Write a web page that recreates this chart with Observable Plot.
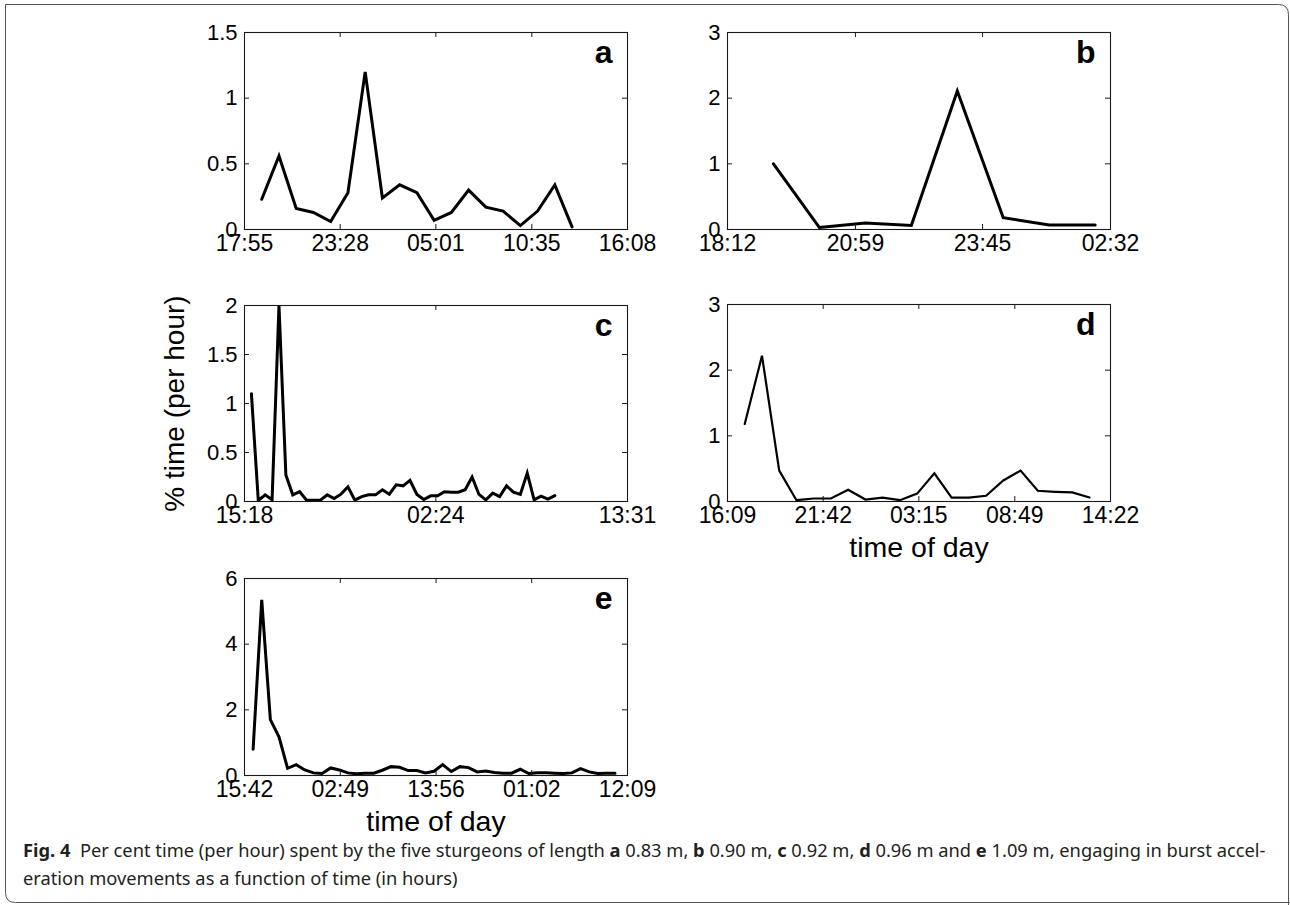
<!DOCTYPE html>
<html><head><meta charset="utf-8">
<script src="https://cdn.jsdelivr.net/npm/d3@7"></script>
<script src="https://cdn.jsdelivr.net/npm/@observablehq/plot@0.6"></script>
<style>
html,body{margin:0;padding:0;background:#fff;}
#fig{position:relative;width:1290px;height:905px;overflow:hidden;background:#fff;}
.panel{position:absolute;}
.panel svg{overflow:visible;display:block;}
#caption{position:absolute;left:23px;top:836px;font-family:"Noto Sans",sans-serif;font-size:18.3px;color:#231f20;line-height:28px;white-space:nowrap;}
#border{position:absolute;left:0;top:0;}
</style></head><body>
<div id="fig">
<svg id="border" width="1290" height="905"><path d="M5.5,4.5 H1278.5 Q1288.5,4.5 1288.5,14.5 V905 M5.5,4.5 V892.5 Q5.5,902.5 15.5,902.5 H1290" fill="none" stroke="#555" stroke-width="1"/></svg>
<div id="pa" class="panel"></div>
<div id="pb" class="panel"></div>
<div id="pc" class="panel"></div>
<div id="pd" class="panel"></div>
<div id="pe" class="panel"></div>
<div id="caption"><b>Fig. 4</b>&nbsp; Per cent time (per hour) spent by the five sturgeons of length <b>a</b> 0.83 m, <b>b</b> 0.90 m, <b>c</b> 0.92 m, <b>d</b> 0.96 m and <b>e</b> 1.09 m, engaging in burst accel-<br>eration movements as a function of time (in hours)</div>
</div>
<script>
// ---- data ----
const aTickLabels = ["17:55", "23:28", "05:01", "10:35", "16:08"];
const aYTicks = [0, 0.5, 1, 1.5];
const aStart = 1, aStep = 1; // hours after first tick, sampling interval (h)
const aValues = [0.23, 0.56, 0.16, 0.13, 0.06, 0.28, 1.20, 0.24, 0.34, 0.28, 0.07, 0.13, 0.30, 0.17, 0.14, 0.03, 0.14, 0.34, 0.02];

const bTickLabels = ["18:12", "20:59", "23:45", "02:32"];
const bYTicks = [0, 1, 2, 3];
const bStart = 1, bStep = 1;
const bValues = [1.0, 0.03, 0.10, 0.06, 2.11, 0.18, 0.07, 0.07];

const cTickLabels = ["15:18", "02:24", "13:31"];
const cYTicks = [0, 0.5, 1, 1.5, 2];
const cStart = 0.4, cStep = 0.4;
const cValues = [1.10, 0.01, 0.068, 0.017, 2.0, 0.27, 0.068, 0.10, 0.014, 0.014, 0.014, 0.068, 0.03, 0.075, 0.15,
  0.014, 0.05, 0.068, 0.068, 0.12, 0.075, 0.17, 0.16, 0.215, 0.072, 0.02, 0.058, 0.058, 0.10, 0.095,
  0.095, 0.12, 0.25, 0.072, 0.017, 0.085, 0.05, 0.16, 0.095, 0.072, 0.29, 0.017, 0.055, 0.024, 0.06];

const dTickLabels = ["16:09", "21:42", "03:15", "08:49", "14:22"];
const dYTicks = [0, 1, 2, 3];
const dStart = 1, dStep = 1;
const dValues = [1.18, 2.22, 0.47, 0.02, 0.046, 0.046, 0.18, 0.03, 0.06, 0.02, 0.12, 0.43, 0.06, 0.06, 0.087, 0.32, 0.47, 0.163, 0.148, 0.138, 0.06];

const eTickLabels = ["15:42", "02:49", "13:56", "01:02", "12:09"];
const eYTicks = [0, 2, 4, 6];
const eStart = 1, eStep = 1;
const eValues = [0.8, 5.35, 1.70, 1.18, 0.22, 0.33, 0.17, 0.08, 0.06, 0.23, 0.17, 0.08, 0.05, 0.07, 0.07, 0.16, 0.27, 0.25, 0.15, 0.15,
  0.08, 0.13, 0.33, 0.12, 0.27, 0.24, 0.11, 0.14, 0.09, 0.07, 0.07, 0.19, 0.06, 0.08, 0.08, 0.07, 0.06, 0.08, 0.21, 0.11, 0.06, 0.07, 0.07];

const yLabel = "% time (per hour)";
const xLabel = "time of day";

// ---- helpers ----
function toMin(s) { const [h, m] = s.split(":").map(Number); return h * 60 + m; }
function tickHours(labels) {
  const pos = [0];
  for (let i = 1; i < labels.length; i++) {
    const diff = (toMin(labels[i]) - toMin(labels[i - 1]) + 1440) % 1440;
    pos.push(pos[i - 1] + diff / 60);
  }
  return pos;
}

const FONT = "'Liberation Sans', Arial, Helvetica, sans-serif";
const innerW = 383;

function panel(o) {
  const tpos = tickHours(o.tickLabels);
  const data = o.values.map((v, i) => ({t: o.start + i * o.step, v}));
  const innerH = o.innerH;
  const ml = o.ml, mr = 40, mt = 12, mb = o.mb;
  const marks = [
    Plot.line(data, {x: "t", y: "v", stroke: "black", strokeWidth: o.sw, strokeLinejoin: "miter", strokeMiterlimit: 4, clip: true}),
    Plot.frame({stroke: "#1a1a1a", strokeWidth: 1.1}),
    Plot.tickX(tpos, {x: d => d, insetTop: innerH - 5, stroke: "#1a1a1a"}),
    Plot.tickX(tpos, {x: d => d, insetBottom: innerH - 5, stroke: "#1a1a1a"}),
    Plot.tickY(o.yTicks, {y: d => d, insetRight: innerW - 5, stroke: "#1a1a1a"}),
    Plot.tickY(o.yTicks, {y: d => d, insetLeft: innerW - 5, stroke: "#1a1a1a"}),
    Plot.axisX({ticks: tpos, tickFormat: d => o.tickLabels[tpos.indexOf(d)], tickSize: 0, tickPadding: 5, fontSize: 23, label: null}),
    Plot.axisY({ticks: o.yTicks, tickFormat: d => String(d), tickSize: 0, tickPadding: 7, fontSize: 22, label: null}),
    Plot.text([o.letter], {text: d => d, frameAnchor: "top-right", textAnchor: "end", lineAnchor: "bottom", dx: -15, dy: 30, fontWeight: "bold", fontSize: 32})
  ];
  if (o.yLabel) marks.push(Plot.text([o.yLabel], {text: d => d, frameAnchor: "left", rotate: -90, textAnchor: "middle", lineAnchor: "middle", dx: -69, fontSize: 28}));
  if (o.xLabel) marks.push(Plot.text([o.xLabel], {text: d => d, frameAnchor: "bottom", textAnchor: "middle", lineAnchor: "bottom", dy: 55, fontSize: 28.5}));
  const chart = Plot.plot({
    width: ml + innerW + mr,
    height: mt + innerH + mb,
    marginLeft: ml, marginRight: mr, marginTop: mt, marginBottom: mb,
    style: {fontFamily: FONT, fontSize: "23px", color: "black", background: "transparent", overflow: "visible"},
    x: {domain: [0, tpos[tpos.length - 1]]},
    y: {domain: [0, o.yTicks[o.yTicks.length - 1]]},
    marks
  });
  const el = document.getElementById(o.id);
  el.style.left = (o.left - ml) + "px";
  el.style.top = (o.top - mt) + "px";
  el.appendChild(chart);
}

panel({id: "pa", left: 244, top: 32, innerH: 197, ml: 60, mb: 40, tickLabels: aTickLabels, yTicks: aYTicks, values: aValues, start: aStart, step: aStep, letter: "a", sw: 3});
panel({id: "pb", left: 727, top: 32, innerH: 197, ml: 60, mb: 40, tickLabels: bTickLabels, yTicks: bYTicks, values: bValues, start: bStart, step: bStep, letter: "b", sw: 3});
panel({id: "pc", left: 244, top: 305, innerH: 196, ml: 100, mb: 40, tickLabels: cTickLabels, yTicks: cYTicks, values: cValues, start: cStart, step: cStep, letter: "c", sw: 3, yLabel});
panel({id: "pd", left: 727, top: 304, innerH: 197, ml: 60, mb: 70, tickLabels: dTickLabels, yTicks: dYTicks, values: dValues, start: dStart, step: dStep, letter: "d", sw: 2.2, xLabel});
panel({id: "pe", left: 244, top: 578, innerH: 197, ml: 60, mb: 70, tickLabels: eTickLabels, yTicks: eYTicks, values: eValues, start: eStart, step: eStep, letter: "e", sw: 3, xLabel});
</script>
</body></html>
